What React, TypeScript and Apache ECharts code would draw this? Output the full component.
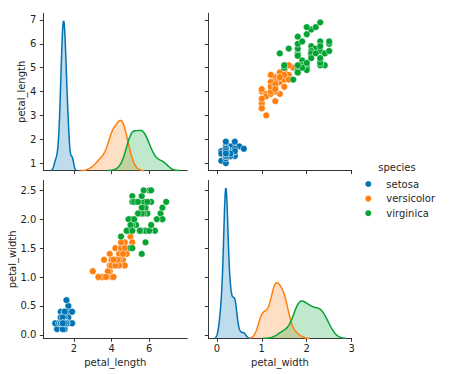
import React, { useEffect, useRef } from "react";
import * as echarts from "echarts";

const SPECIES = ["setosa", "versicolor", "virginica"];
const COLORS = ["#0173b2", "#ff7f0e", "#05a333"];

const SETOSA_PETAL_LENGTH = [1.4,1.4,1.3,1.5,1.4,1.7,1.4,1.5,1.4,1.5,1.5,1.6,1.4,1.1,1.2,1.5,1.3,1.4,1.7,1.5,1.7,1.5,1.0,1.7,1.9,1.6,1.6,1.5,1.4,1.6,1.6,1.5,1.5,1.4,1.5,1.2,1.3,1.4,1.3,1.5,1.3,1.3,1.3,1.6,1.9,1.4,1.6,1.4,1.5,1.4];
const SETOSA_PETAL_WIDTH = [0.2,0.2,0.2,0.2,0.2,0.4,0.3,0.2,0.2,0.1,0.2,0.2,0.1,0.1,0.2,0.4,0.4,0.3,0.3,0.3,0.2,0.4,0.2,0.5,0.2,0.2,0.4,0.2,0.2,0.2,0.2,0.4,0.1,0.2,0.2,0.2,0.2,0.1,0.2,0.2,0.3,0.3,0.2,0.6,0.4,0.3,0.2,0.2,0.2,0.2];
const VERSICOLOR_PETAL_LENGTH = [4.7,4.5,4.9,4.0,4.6,4.5,4.7,3.3,4.6,3.9,3.5,4.2,4.0,4.7,3.6,4.4,4.5,4.1,4.5,3.9,4.8,4.0,4.9,4.7,4.3,4.4,4.8,5.0,4.5,3.5,3.8,3.7,3.9,5.1,4.5,4.5,4.7,4.4,4.1,4.0,4.4,4.6,4.0,3.3,4.2,4.2,4.2,4.3,3.0,4.1];
const VERSICOLOR_PETAL_WIDTH = [1.4,1.5,1.5,1.3,1.5,1.3,1.6,1.0,1.3,1.4,1.0,1.5,1.0,1.4,1.3,1.4,1.5,1.0,1.5,1.1,1.8,1.3,1.5,1.2,1.3,1.4,1.4,1.7,1.5,1.0,1.1,1.0,1.2,1.6,1.5,1.6,1.5,1.3,1.3,1.3,1.2,1.4,1.2,1.0,1.3,1.2,1.3,1.3,1.1,1.3];
const VIRGINICA_PETAL_LENGTH = [6.0,5.1,5.9,5.6,5.8,6.6,4.5,6.3,5.8,6.1,5.1,5.3,5.5,5.0,5.1,5.3,5.5,6.7,6.9,5.0,5.7,4.9,6.7,4.9,5.7,6.0,4.8,4.9,5.6,5.8,6.1,6.4,5.6,5.1,5.6,6.1,5.6,5.5,4.8,5.4,5.6,5.1,5.1,5.9,5.7,5.2,5.0,5.2,5.4,5.1];
const VIRGINICA_PETAL_WIDTH = [2.5,1.9,2.1,1.8,2.2,2.1,1.7,1.8,1.8,2.5,2.0,1.9,2.1,2.0,2.4,2.3,1.8,2.2,2.3,1.5,2.3,2.0,2.0,1.8,2.1,1.8,1.8,1.8,2.1,1.6,1.9,2.0,2.2,1.5,1.4,2.3,2.4,1.8,1.8,2.1,2.4,2.3,1.9,2.3,2.5,2.3,1.9,2.0,2.3,1.8];

const PETAL_LENGTH = [SETOSA_PETAL_LENGTH, VERSICOLOR_PETAL_LENGTH, VIRGINICA_PETAL_LENGTH];
const PETAL_WIDTH = [SETOSA_PETAL_WIDTH, VERSICOLOR_PETAL_WIDTH, VIRGINICA_PETAL_WIDTH];

const PL_X_TICKS = [2, 4, 6];
const PW_X_TICKS = [0, 1, 2, 3];
const PL_Y_TICKS = [1, 2, 3, 4, 5, 6, 7];
const PW_Y_TICKS = [0, 0.5, 1, 1.5, 2, 2.5];

const PL_X_RANGE = [0.37, 8.02];
const PW_X_RANGE = [-0.19, 3.0];
const PL_Y_RANGE = [0.69, 7.28];
const PW_Y_RANGE = [-0.06, 2.67];

const FONT = "DejaVu Sans";
const INK = "#1f1f1f";

// Gaussian KDE (Scott's rule, as in scipy) built from the data arrays
function kde(data: number[]): number[][] {
  const n = data.length;
  const mean = data.reduce((a, b) => a + b, 0) / n;
  const ss = data.reduce((a, b) => a + (b - mean) * (b - mean), 0);
  const f = Math.pow(n, -0.2);
  const h = Math.sqrt(ss / (n - 1)) * f;
  const bwS = Math.sqrt(ss / n) * f;
  const lo = Math.min(...data) - 3 * bwS;
  const hi = Math.max(...data) + 3 * bwS;
  const out: number[][] = [];
  const G = 100;
  for (let i = 0; i < G; i++) {
    const x = lo + ((hi - lo) * i) / (G - 1);
    let s = 0;
    for (const d of data) {
      const z = (x - d) / h;
      s += Math.exp(-0.5 * z * z);
    }
    out.push([x, s / (n * h * Math.sqrt(2 * Math.PI))]);
  }
  return out;
}

const GRIDS = [
  { left: 43.3, top: 13.3, width: 144, height: 157.2 },
  { left: 208.3, top: 13.3, width: 143.4, height: 157.2 },
  { left: 43.3, top: 180.5, width: 144, height: 157.8 },
  { left: 208.3, top: 180.5, width: 143.4, height: 157.8 },
];

function valueAxis(
  gridIndex: number,
  range: number[],
  ticks: number[] | null,
  showLabels: boolean,
  fmt: (v: number) => string,
  position: string,
  margin: number
): any {
  if (!ticks) {
    return {
      type: "value",
      gridIndex,
      min: range[0],
      max: range[1],
      position,
      axisLine: { show: false },
      axisTick: { show: false },
      axisLabel: { show: false },
      splitLine: { show: false },
    };
  }
  return {
    type: "value",
    gridIndex,
    min: range[0],
    max: range[1],
    position,
    axisLine: { show: true, onZero: false, lineStyle: { color: INK, width: 0.9 } },
    axisTick: { show: true, length: 3.5, inside: false, customValues: ticks, lineStyle: { color: INK, width: 0.9 } },
    axisLabel: {
      show: showLabels,
      customValues: ticks,
      formatter: fmt,
      margin,
      color: INK,
      fontSize: 10,
      fontFamily: FONT,
      hideOverlap: false,
      showMinLabel: true,
      showMaxLabel: true,
    },
    splitLine: { show: false },
    splitArea: { show: false },
  };
}

export default function App() {
  const ref = useRef<HTMLDivElement>(null);
  useEffect(() => {
    if (!ref.current) return;
    const chart = echarts.init(ref.current, null, { renderer: "svg" });

    const plKde = PETAL_LENGTH.map((d) => kde(d));
    const pwKde = PETAL_WIDTH.map((d) => kde(d));
    const plMax = Math.max(...plKde.map((c) => Math.max(...c.map((p) => p[1]))));
    const pwMax = Math.max(...pwKde.map((c) => Math.max(...c.map((p) => p[1]))));

    const intFmt = (v: number) => String(Math.round(v));
    const oneDec = (v: number) => v.toFixed(1);

    const xAxis = [
      valueAxis(0, PL_X_RANGE, PL_X_TICKS, false, intFmt, "bottom", 5.5),
      valueAxis(1, PW_X_RANGE, PW_X_TICKS, false, intFmt, "bottom", 5.5),
      valueAxis(2, PL_X_RANGE, PL_X_TICKS, true, intFmt, "bottom", 5.5),
      valueAxis(3, PW_X_RANGE, PW_X_TICKS, true, intFmt, "bottom", 5.5),
    ];
    const yAxis = [
      valueAxis(0, PL_Y_RANGE, PL_Y_TICKS, true, intFmt, "left", 7),
      valueAxis(0, [0, plMax * 1.05], null, false, intFmt, "right", 0),
      valueAxis(1, PL_Y_RANGE, PL_Y_TICKS, false, intFmt, "left", 7),
      valueAxis(2, PW_Y_RANGE, PW_Y_TICKS, true, oneDec, "left", 7),
      valueAxis(3, PW_Y_RANGE, PW_Y_TICKS, false, oneDec, "left", 7),
      valueAxis(3, [0, pwMax * 1.05], null, false, intFmt, "right", 0),
    ];

    const series: any[] = [];
    const kdeSeries = (name: string, xi: number, yi: number, data: number[][], c: string) => ({
      type: "line",
      name,
      xAxisIndex: xi,
      yAxisIndex: yi,
      data,
      showSymbol: false,
      symbol: "none",
      silent: true,
      clip: false,
      lineStyle: { color: c, width: 1.5 },
      itemStyle: { color: c },
      areaStyle: { color: c, opacity: 0.25 },
    });
    const scatterSeries = (name: string, xi: number, yi: number, data: number[][], c: string) => ({
      type: "scatter",
      name,
      xAxisIndex: xi,
      yAxisIndex: yi,
      data,
      symbol: "circle",
      symbolSize: 6.8,
      silent: true,
      itemStyle: { color: c, borderColor: "#ffffff", borderWidth: 0.5, opacity: 1 },
    });
    SPECIES.forEach((sp, i) => series.push(kdeSeries(sp + " petal_length density", 0, 1, plKde[i], COLORS[i])));
    SPECIES.forEach((sp, i) =>
      series.push(scatterSeries(sp, 1, 2, PETAL_WIDTH[i].map((w, k) => [w, PETAL_LENGTH[i][k]]), COLORS[i]))
    );
    SPECIES.forEach((sp, i) =>
      series.push(scatterSeries(sp, 2, 3, PETAL_LENGTH[i].map((l, k) => [l, PETAL_WIDTH[i][k]]), COLORS[i]))
    );
    SPECIES.forEach((sp, i) => series.push(kdeSeries(sp + " petal_width density", 3, 5, pwKde[i], COLORS[i])));

    const textStyle = { fill: INK, fontSize: 10, fontFamily: FONT };

    const option: any = {
      animation: false,
      backgroundColor: "#ffffff",
      textStyle: { fontFamily: FONT },
      grid: GRIDS.map((g) => ({ ...g, containLabel: false, outerBoundsMode: "none" })),
      xAxis,
      yAxis,
      series,
      legend: {
        orient: "vertical",
        left: 365.3,
        top: 178,
        padding: 0,
        itemGap: 2.6,
        itemWidth: 26,
        itemHeight: 6,
        icon: "circle",
        selectedMode: false,
        data: SPECIES,
        itemStyle: { borderWidth: 0 },
        textStyle: { color: INK, fontSize: 10, fontFamily: FONT, lineHeight: 12 },
      },
      graphic: [
        { type: "text", x: 378.3, y: 167.3, style: { ...textStyle, text: "species", align: "left", verticalAlign: "middle" } },
        { type: "text", x: 21.7, y: 91.8, rotation: Math.PI / 2, style: { ...textStyle, text: "petal_length", align: "center", verticalAlign: "middle" } },
        { type: "text", x: 12.8, y: 259.4, rotation: Math.PI / 2, style: { ...textStyle, text: "petal_width", align: "center", verticalAlign: "middle" } },
        { type: "text", x: 115.3, y: 362.5, style: { ...textStyle, text: "petal_length", align: "center", verticalAlign: "middle" } },
        { type: "text", x: 280, y: 362.5, style: { ...textStyle, text: "petal_width", align: "center", verticalAlign: "middle" } },
      ],
    };
    chart.setOption(option);
    return () => chart.dispose();
  }, []);
  return (
    <div
      ref={ref}
      style={{ position: "absolute", left: 0, top: 0, width: 452, height: 374, background: "#ffffff" }}
    />
  );
}
